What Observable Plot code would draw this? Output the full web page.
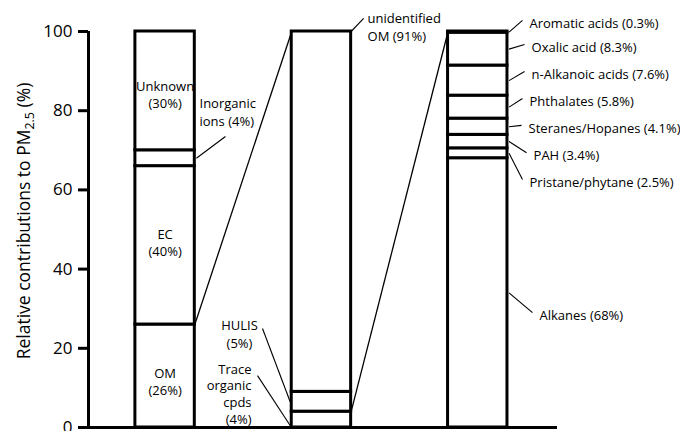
<!DOCTYPE html>
<html><head><meta charset="utf-8">
<script src="https://cdn.jsdelivr.net/npm/d3@7"></script>
<script src="https://cdn.jsdelivr.net/npm/@observablehq/plot@0.6"></script>
<style>html,body{margin:0;padding:0;background:#fff} svg{display:block}</style>
</head><body><div id="chart"></div>
<script>
// ---- data ----
const bar1Names = ["OM", "EC", "Inorganic ions", "Unknown"];
const bar1Values = [26, 40, 4, 30];
const bar2Names = ["Trace organic cpds", "HULIS", "unidentified OM"];
const bar2Values = [4, 5, 91];
const bar3Names = ["Alkanes", "Pristane/phytane", "PAH", "Steranes/Hopanes", "Phthalates", "n-Alkanoic acids", "Oxalic acid", "Aromatic acids"];
const bar3Values = [68, 2.5, 3.4, 4.1, 5.8, 7.6, 8.3, 0.3];
const yTicks = [0, 20, 40, 60, 80, 100];

const bar1Labels = ["OM\n(26%)", "EC\n(40%)", "Inorganic\nions (4%)", "Unknown\n(30%)"];
const bar2Labels = ["Trace\norganic\ncpds\n(4%)", "HULIS\n(5%)", "unidentified\nOM (91%)"];
const bar3Labels = ["Alkanes (68%)", "Pristane/phytane (2.5%)", "PAH (3.4%)", "Steranes/Hopanes (4.1%)", "Phthalates (5.8%)", "n-Alkanoic acids (7.6%)", "Oxalic acid (8.3%)", "Aromatic acids (0.3%)"];

// ---- layout (annotation placement, in data units) ----
const half = 0.19;
const bar3LabelY = [28.5, 62.1, 68.9, 75.8, 82.6, 89.4, 96.2, 102.3];
const bar3LabelX = [3.395, 3.331, 3.357, 3.325, 3.331, 3.344, 3.344, 3.331];

function stack(bar, names, values) {
  let c = 0;
  return names.map((n, i) => {
    const s = {bar, name: n, y1: c, y2: c + values[i], x1: bar - half, x2: bar + half};
    c += values[i];
    s.mid = (s.y1 + s.y2) / 2;
    return s;
  });
}
const s1 = stack(1, bar1Names, bar1Values);
const s2 = stack(2, bar2Names, bar2Values);
const s3 = stack(3, bar3Names, bar3Values);
const segs = [...s1, ...s2, ...s3];

// connectors between bars (zoomed component)
const connectors = [
  {x1: 1 + half, y1: s1[0].y2, x2: 2 - half, y2: 100},
  {x1: 2 + half, y1: s2[0].y2, x2: 3 - half, y2: 100}
];

// inside labels of bar 1
const inside = [0, 1, 3].map(i => ({x: 1, y: s1[i].mid - (i === 0 ? 1.2 : i === 3 ? 0.8 : -0.8), t: bar1Labels[i]}));

const startLabels = [
  {x: 1.22, y: 79.8, t: bar1Labels[2]},
  {x: 2.295, y: 101.3, t: bar2Labels[2]},
  ...bar3Labels.map((t, i) => ({x: bar3LabelX[i], y: bar3LabelY[i], t}))
];
const midLabels = [{x: 1.476, y: 23.9, t: bar2Labels[1]}];
const endLabels = [{x: 1.553, y: 8.6, t: bar2Labels[0]}];

const leaders = [
  {x1: 1 + half + 0.01, y1: s1[2].mid, x2: 1.386, y2: 73.5},
  {x1: 2 + half, y1: 100, x2: 2.27, y2: 103.3},
  {x1: 1.623, y1: 25, x2: 2 - half - 0.01, y2: s2[1].mid},
  {x1: 1.591, y1: 13.1, x2: 2 - half - 0.01, y2: 0.5},
  ...s3.map((s, i) => ({x1: 3 + half + 0.01, y1: s.mid, x2: bar3LabelX[i] - 0.045, y2: bar3LabelY[i] + 0.5}))
];

const plot = Plot.plot({
  width: 680, height: 431,
  marginLeft: 88, marginRight: 123, marginTop: 31, marginBottom: 4,
  x: {domain: [0.51, 3.51], axis: null},
  y: {domain: [0, 100], axis: null},
  style: {fontFamily: "'Open Sans', sans-serif", fontSize: "13px", background: "white", color: "black", overflow: "visible"},
  marks: [
    Plot.link(connectors, {x1: "x1", y1: "y1", x2: "x2", y2: "y2", stroke: "black", strokeWidth: 1.3}),
    Plot.link(leaders, {x1: "x1", y1: "y1", x2: "x2", y2: "y2", stroke: "black", strokeWidth: 1.1}),
    Plot.rect(segs, {x1: "x1", x2: "x2", y1: "y1", y2: "y2", fill: "white", stroke: "black", strokeWidth: 3}),
    Plot.ruleX([0.51], {y1: 0, y2: 100, stroke: "black", strokeWidth: 3}),
    Plot.ruleY([0], {stroke: "black", strokeWidth: 3}),
    Plot.axisY({ticks: yTicks, tickSize: 10, tickPadding: 6, fontSize: 17, strokeWidth: 3, label: null, stroke: "black"}),
    Plot.text(inside, {x: "x", y: "y", text: "t", textAnchor: "middle", lineHeight: 1.3, fontSize: 13, fill: "black"}),
    Plot.text(startLabels, {x: "x", y: "y", text: "t", textAnchor: "start", lineHeight: 1.35, fontSize: 13, fill: "black"}),
    Plot.text(midLabels, {x: "x", y: "y", text: "t", textAnchor: "middle", lineHeight: 1.4, fontSize: 13, fill: "black"}),
    Plot.text(endLabels, {x: "x", y: "y", text: "t", textAnchor: "end", lineHeight: 1.3, fontSize: 13, fill: "black"})
  ]
});

// y-axis title with subscript
const yl = d3.select(plot).append("text")
  .attr("transform", "translate(30,221) rotate(-90)")
  .attr("text-anchor", "middle")
  .attr("fill", "black")
  .style("font-family", "'Open Sans', sans-serif")
  .style("font-size", "17.5px");
yl.append("tspan").text("Relative contributions to PM");
yl.append("tspan").attr("dy", 4).style("font-size", "12.5px").text("2.5");
yl.append("tspan").attr("dy", -4).text(" (%)");

document.getElementById("chart").appendChild(plot);
</script>
</body></html>
